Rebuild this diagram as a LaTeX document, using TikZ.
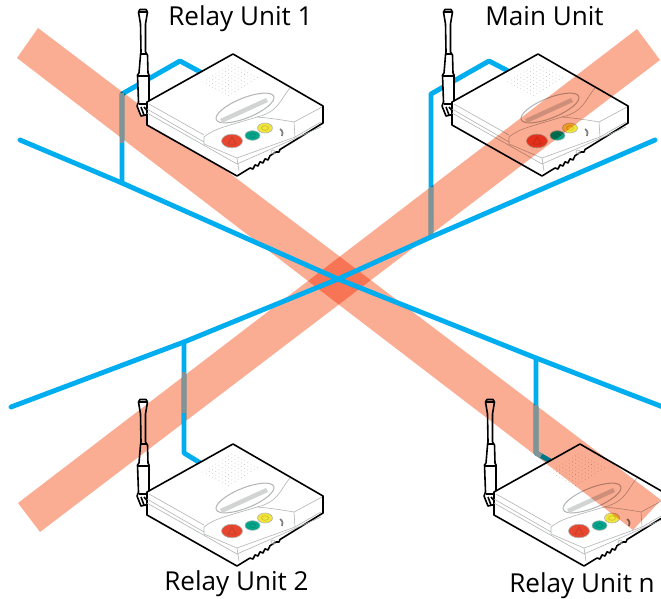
\documentclass[tikz,border=0pt]{standalone}
\usepackage{fontspec}
\setmainfont{Open Sans}
\definecolor{busblue}{HTML}{00AEEF}
\definecolor{busgray}{HTML}{7F9499}
\definecolor{bandred}{HTML}{FBAD93}
\definecolor{btnred}{HTML}{E8472F}
\definecolor{btngreen}{HTML}{00A58A}
\definecolor{btnyellow}{HTML}{F2E53A}
\definecolor{detail}{HTML}{B2B5B5}
\definecolor{lcd}{HTML}{D2D4D4}
\tikzset{
  bus/.style={line width=0.098cm,busblue,line cap=round,line join=round},
  busshade/.style={line width=0.098cm,busgray,line cap=butt,line join=round},
  band/.style={fill=bandred,draw=none,blend mode=multiply},
  outline/.style={draw=black,line width=0.032cm,line join=round},
  fine/.style={draw=detail,line width=0.012cm,line join=round},
  label/.style={inner sep=0pt,font=\fontsize{14.85}{18}\selectfont},
  pics/unitdevice/.style={code={
    % antenna
    \filldraw[outline,fill=white] (-94.5,-42) -- (-93,-44.5) -- (-87,-44.5) -- (-85.5,-42) -- (-87.5,-30) -- (-87.5,-2) -- (-85.5,1) -- (-85,19) -- (-84,21) -- (-84,48) -- (-85.5,52) -- (-83,60) -- (-92,62) -- (-96,52) -- (-94.5,48) -- (-95.5,21) -- (-94,19) -- (-92.5,1) -- (-92,-2) -- (-92.5,-30) -- cycle;
    \draw[outline] (-94.5,-42) -- (-85.5,-42);
    \draw[outline] (-92.5,0) -- (-86,0) (-95.5,22) -- (-84,22) (-94.5,50) -- (-84.5,50);
    \draw[outline] (-92,53) -- (-89,61) (-89,53) -- (-83,60);
    % body
    \filldraw[outline,fill=white] (-86,48) -- (0,0) -- (90,52) -- (90,69) -- (47,95.5) -- (46,98) -- (43,98) -- (37,101.7) -- (35,106) -- (32,104.8) -- (30,109) -- (27,107.8) -- (25,112) -- (22,110.9) -- (20,115) -- (17,114) -- (4,122) -- (-86,71) -- cycle;
    % fine detail
    \draw[fine] (-84,50) -- (-29,81) (-86,55) -- (-29,88) (-86,59) -- (4,110);
    \draw[fine] (-29,83) -- (-29,90) -- (4,104) -- (62,83) -- (61,68) (62,83) -- (88,68) (61,68) -- (89,53);
    \draw[fine] (4,104) -- (6,117) (4,110) -- (88,73);
    \draw[fine] (-29,83) .. controls (-18,74) and (-5,72) .. (24,63) .. controls (36,64) and (50,66) .. (61,68);
    \draw[fine] (57,34) .. controls (48,44) and (46,58) .. (24,63);
    \draw[fine] (40,98) circle [radius=2];
    \foreach \i in {0,...,8}{\foreach \j in {0,...,9}{
      \fill[detail] ({-30+3.2*\i+3.2*\j},{28+1.7*\i-2*\j}) circle [radius=0.4];
    }}
    % display
    \draw[draw=detail,fill=white,line width=0.02cm,rotate around={22:(12,54)}] (12,54) ellipse [x radius=31,y radius=10];
    \fill[fill=lcd] (-13,65) -- (33,44) -- (35,48) -- (-11,69) -- cycle;
    % buttons
    \filldraw[draw=detail,fill=btnred,line width=0.012cm] (-1,87) ellipse [x radius=10.5,y radius=6.8];
    \draw[draw=btnred!80!black,line width=0.01cm] (-1,83) -- (-5,90) -- (3,90) -- cycle;
    \filldraw[draw=detail,fill=btngreen,line width=0.012cm] (19.5,81.5) ellipse [x radius=7.5,y radius=4.8];
    \draw[btngreen!80!black,line width=0.01cm] (19.5,81.5) ellipse [x radius=3,y radius=2];
    \filldraw[draw=detail,fill=btnyellow,line width=0.012cm] (32,74) ellipse [x radius=7.5,y radius=5];
    \draw[btnyellow!80!black,line width=0.01cm] (32,74) ellipse [x radius=3.5,y radius=2.3];
    \draw[gray,line width=0.035cm] (47,75) .. controls (50,77) and (50,80) .. (49,82);
  }}
}
\begin{document}
\begin{tikzpicture}[x=0.02cm,y=-0.02cm]
\useasboundingbox (0,0) rectangle (661,598);
\clip (0,0) rectangle (661,598);
% named junctions and ports
\coordinate (busAstart) at (20,140);
\coordinate (busAjoin1) at (122,183);
\coordinate (cross) at (338,279);
\coordinate (busAjoinN) at (536,358);
\coordinate (busAend) at (663,407);
\coordinate (busBstart) at (11,407);
\coordinate (busBjoin2) at (184,342);
\coordinate (busBjoinM) at (431,237);
\coordinate (busBend) at (655,140);
\coordinate (r1a) at (122,94);
\coordinate (r1b) at (180,61);
\coordinate (r1port) at (204,74);
\coordinate (mua) at (431,94);
\coordinate (mub) at (489,61);
\coordinate (muport) at (512,73);
\coordinate (r2a) at (184,453);
\coordinate (r2port) at (202,464);
\coordinate (rna) at (536,453);
\coordinate (rnport) at (554,463);
% spur connectors
\draw[bus] (busAjoin1) -- (r1a) -- (r1b) -- (r1port);
\draw[bus] (busBjoinM) -- (mua) -- (mub) -- (muport);
\draw[bus] (busBjoin2) -- (r2a) -- (r2port);
\draw[bus] (busAjoinN) -- (rna) -- (rnport);
% devices under the bands
\pic (mainunit) at (538,54) {unitdevice};
\pic (relaytwo) at (233,444) {unitdevice};
\pic (relayn) at (580,444) {unitdevice};
% bands
\fill[band] (38,28) -- (661,500) -- (633,530) -- (17,58) -- cycle;
\fill[band] (18,503) -- (637,29) -- (660,60) -- (40,532) -- cycle;
% spur portions inside the bands
\draw[busshade] (122,93) -- (122,143);
\draw[busshade] (431,187) -- (431,236);
\draw[busshade] (184,372) -- (184,413);
\draw[bus,line cap=butt] (184,413) -- (184,426);
\draw[busshade] (536,405) -- (rna) -- (541,456);
% main bus lines
\draw[bus] (busAstart) -- (busAjoin1) -- (cross) -- (busAjoinN) -- (busAend);
\draw[bus] (busBstart) -- (busBjoin2) -- (cross) -- (busBjoinM) -- (busBend);
% device above the band
\pic (relayone) at (233,54) {unitdevice};
% labels
\node[label,anchor=base west] (lblone) at (168,26) {Relay Unit 1};
\node[label,anchor=base west] (lblmain) at (485,26) {Main Unit};
\node[label,anchor=base west] (lbltwo) at (164,590) {Relay Unit 2};
\node[label,anchor=base west] (lbln) at (509,592) {Relay Unit n};
\end{tikzpicture}
\end{document}
